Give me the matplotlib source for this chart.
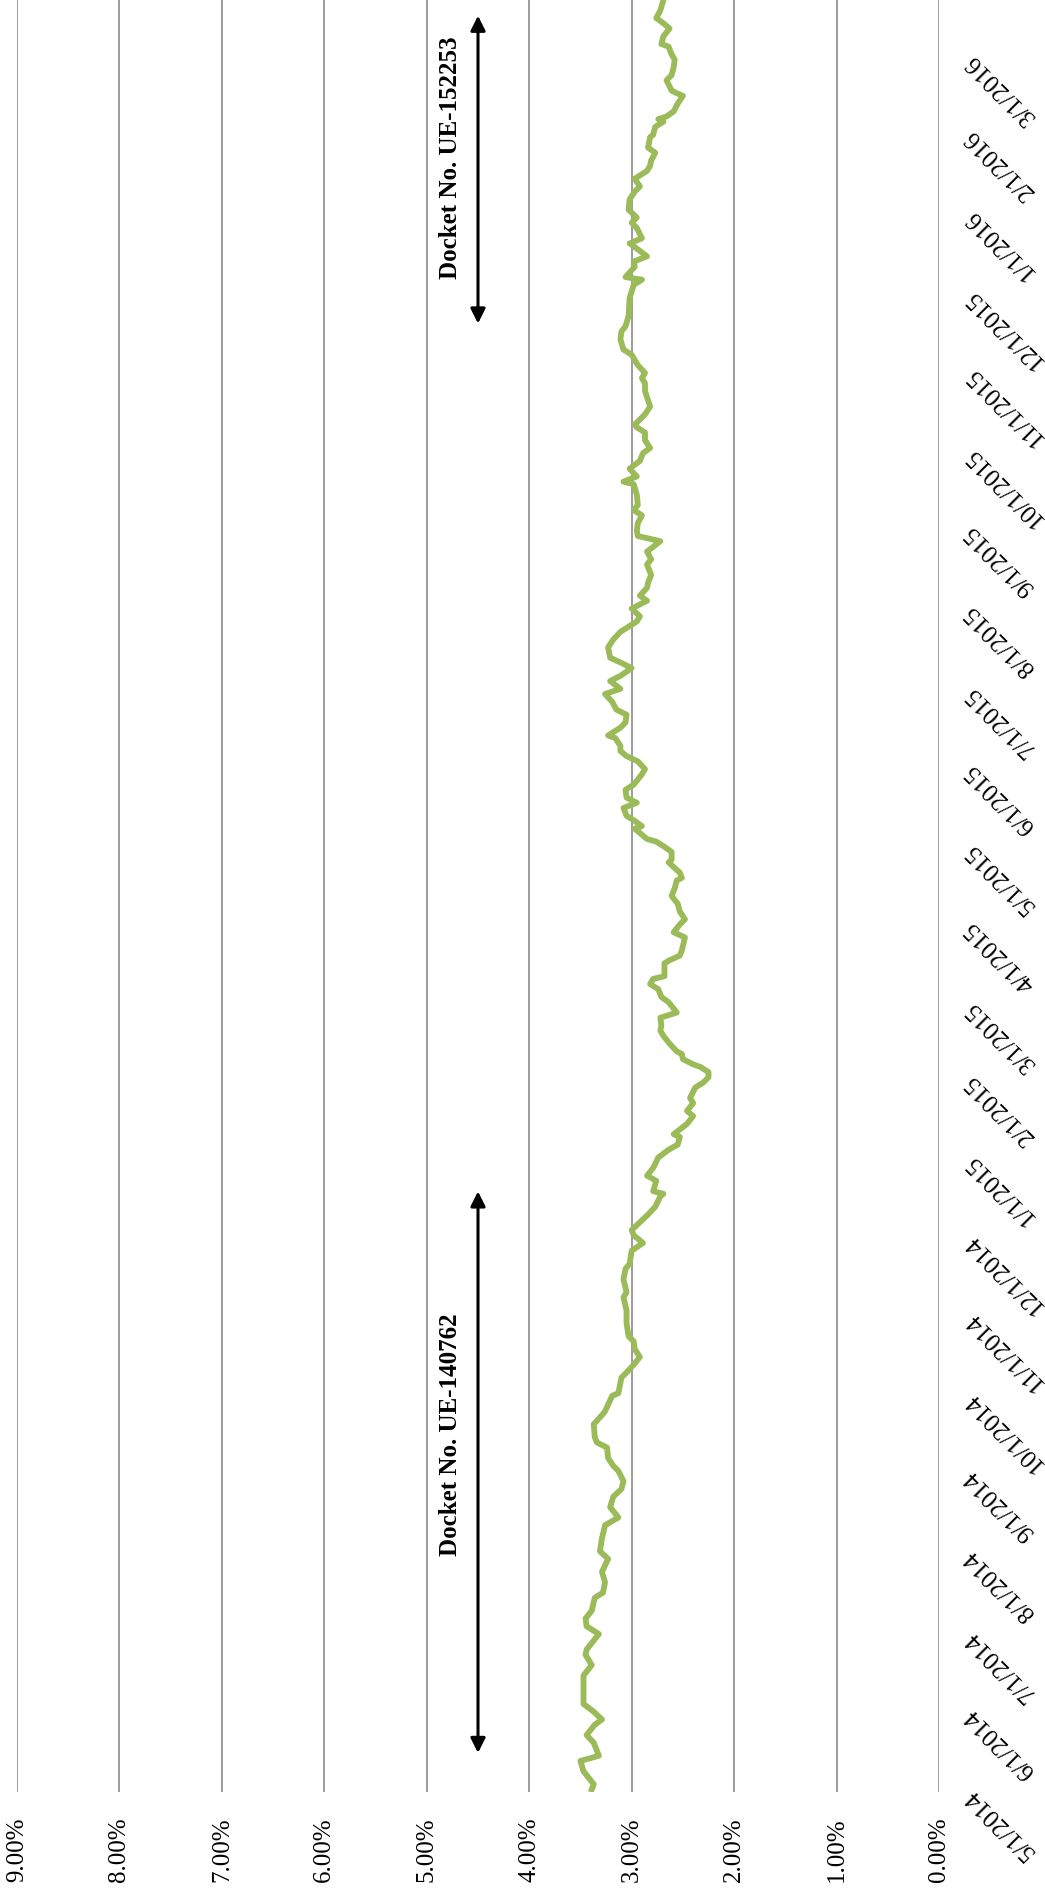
import matplotlib
matplotlib.use("Agg")
import matplotlib.pyplot as plt
import matplotlib.dates as mdates
import pandas as pd

plt.rcParams["font.family"] = ["Liberation Serif", "DejaVu Serif"]

# days after 5/1/2014 and spread (%)
days = [
    1, 3, 8, 12, 14, 19, 22, 26, 28, 31, 34, 41, 45, 49, 53, 55, 61, 64, 67, 70,
    75, 77, 81, 85, 90, 93, 98, 103, 106, 110, 114, 117, 120, 124, 126, 129, 133, 135, 137, 142,
    146, 147, 153, 154, 160, 162, 165, 168, 171, 174, 176, 181, 186, 191, 193, 198, 202, 204, 209, 212,
    215, 217, 220, 223, 226, 230, 231, 232, 236, 238, 241, 245, 248, 250, 253, 254, 258, 261, 263, 266,
    268, 272, 274, 276, 278, 280, 281, 283, 285, 286, 289, 292, 294, 296, 299, 301, 305, 307, 310, 312,
    314, 315, 317, 320, 321, 323, 325,
    330, 332, 335, 337, 340, 343, 346, 349, 352, 353, 355, 359, 360, 363, 365, 367, 368, 372, 373, 375,
    377, 380, 382, 384, 387, 389, 393, 395, 398, 400, 402, 404, 407, 408, 411, 413, 416, 418, 421, 424,
    426, 429, 431, 434, 436, 438, 442, 445, 448, 450, 452, 454, 457, 460, 462, 465, 467, 470, 474, 476,
    479, 483, 485, 487, 490, 493, 495, 497, 501, 505, 506, 508,
    511, 514, 517, 519, 522, 525, 527, 528, 532, 535, 541, 544, 546, 548, 551, 553, 555, 557, 561, 564,
    566, 570, 577, 582, 584, 585, 589, 591, 593, 596, 598, 600, 604, 606, 608, 611, 615, 618, 620, 623,
    626, 628, 630, 633, 635, 639, 640, 643, 645, 646, 647, 649, 652, 655, 656, 657, 661, 663, 666, 669,
    671, 674, 675, 678, 681, 683, 685, 688, 692,
]
spread = [
    3.39, 3.37, 3.47, 3.50, 3.32, 3.37, 3.44, 3.36, 3.29, 3.37, 3.47, 3.47, 3.47, 3.39, 3.45, 3.44, 3.32, 3.44, 3.45, 3.39,
    3.36, 3.28, 3.26, 3.29, 3.23, 3.31, 3.29, 3.26, 3.13, 3.21, 3.18, 3.10, 3.08, 3.13, 3.18, 3.23, 3.24, 3.34, 3.36, 3.37,
    3.28, 3.26, 3.19, 3.13, 3.10, 3.05, 2.98, 2.92, 2.97, 2.98, 3.03, 3.05, 3.05, 3.08, 3.05, 3.08, 3.06, 3.02, 3.00, 2.89,
    2.98, 3.00, 2.92, 2.84, 2.77, 2.72, 2.69, 2.79, 2.76, 2.85, 2.79, 2.74, 2.64, 2.55, 2.53, 2.59, 2.46, 2.40, 2.46, 2.40,
    2.43, 2.38, 2.30, 2.25, 2.25, 2.33, 2.40, 2.50, 2.51, 2.56, 2.63, 2.69, 2.72, 2.71, 2.72, 2.56, 2.64, 2.71, 2.74, 2.82,
    2.79, 2.68, 2.68, 2.68, 2.64, 2.53, 2.51,
    2.48, 2.59, 2.53, 2.48, 2.53, 2.55, 2.61, 2.58, 2.56, 2.51, 2.53, 2.64, 2.61, 2.61, 2.68, 2.76, 2.85, 2.97, 2.90, 2.97,
    3.05, 3.08, 2.95, 3.05, 3.06, 2.98, 2.90, 2.87, 2.94, 3.05, 3.11, 3.11, 3.16, 3.23, 3.11, 3.06, 3.05, 3.15, 3.19, 3.26,
    3.11, 3.21, 3.11, 3.00, 3.10, 3.21, 3.23, 3.18, 3.11, 3.03, 2.95, 2.92, 3.00, 2.85, 2.92, 2.85, 2.84, 2.81, 2.85, 2.81,
    2.85, 2.72, 2.94, 2.95, 2.94, 2.90, 2.98, 2.94, 2.95, 2.98, 3.08, 2.95,
    3.02, 2.92, 2.89, 2.82, 2.87, 2.87, 2.95, 2.97, 2.87, 2.82, 2.87, 2.87, 2.90, 2.87, 2.94, 2.97, 3.00, 3.08, 3.11, 3.10,
    3.06, 3.03, 3.02, 2.98, 2.90, 3.06, 2.97, 2.98, 2.85, 2.95, 3.02, 2.90, 2.95, 3.00, 2.95, 3.03, 3.02, 2.97, 2.92, 2.97,
    2.85, 2.82, 2.81, 2.77, 2.84, 2.82, 2.79, 2.77, 2.69, 2.74, 2.66, 2.59, 2.55, 2.50, 2.56, 2.61, 2.66, 2.61, 2.59, 2.58,
    2.61, 2.64, 2.71, 2.69, 2.63, 2.69, 2.76, 2.72, 2.69,
]

start = pd.Timestamp("2014-05-01")
end = pd.Timestamp("2016-03-23")
dates = start + pd.to_timedelta(days, unit="D")

pct_ticks = [0, 1, 2, 3, 4, 5, 6, 7, 8, 9]
dockets = ["Docket No. UE-140762", "Docket No. UE-152253"]
docket_from = [pd.Timestamp("2014-05-15"), pd.Timestamp("2015-11-18")]
docket_to = [pd.Timestamp("2014-12-20"), pd.Timestamp("2016-03-18")]
docket_mid = [pd.Timestamp("2014-09-16"), pd.Timestamp("2016-01-22")]

fig = plt.figure(figsize=(10.45, 18.91), dpi=100)
ax = fig.add_axes([17 / 1045, 99 / 1891, 922 / 1045, 1792 / 1891])

# chart is drawn turned on its side: spread runs right-to-left, time runs upward
ax.plot(spread, dates, color="#9BBB59", lw=4.2, solid_joinstyle="round", zorder=3)

ax.set_xlim(9, 0)
ax.set_ylim(start, end)
ax.set_xticks(pct_ticks)
ax.set_xticklabels([f"{p:.2f}%" for p in pct_ticks], rotation=90, fontsize=18)
ax.grid(axis="x", color="#8c8c8c", lw=1.2)
ax.tick_params(axis="x", length=0, pad=18)

ax.yaxis.tick_right()
ax.yaxis.set_major_locator(mdates.MonthLocator())
ax.yaxis.set_major_formatter(
    plt.FuncFormatter(lambda v, _: (lambda d: f"{d.month}/{d.day}/{d.year}")(mdates.num2date(v)))
)
ax.tick_params(axis="y", length=0, pad=21, labelsize=18)
for lab in ax.get_yticklabels():
    lab.set_rotation(135)
    lab.set_rotation_mode("anchor")
    lab.set_ha("right")
    lab.set_va("center")

for s in ax.spines.values():
    s.set_visible(False)

for name, d0, d1, dm in zip(dockets, docket_from, docket_to, docket_mid):
    ax.annotate("", xy=(4.5, d0), xytext=(4.5, d1),
                arrowprops=dict(arrowstyle="<|-|>", color="black", lw=2.2, mutation_scale=22))
    ax.text(4.77, dm, name, rotation=90, ha="center", va="center",
            fontsize=18, fontweight="bold")

fig.savefig("out.png", dpi=100)
